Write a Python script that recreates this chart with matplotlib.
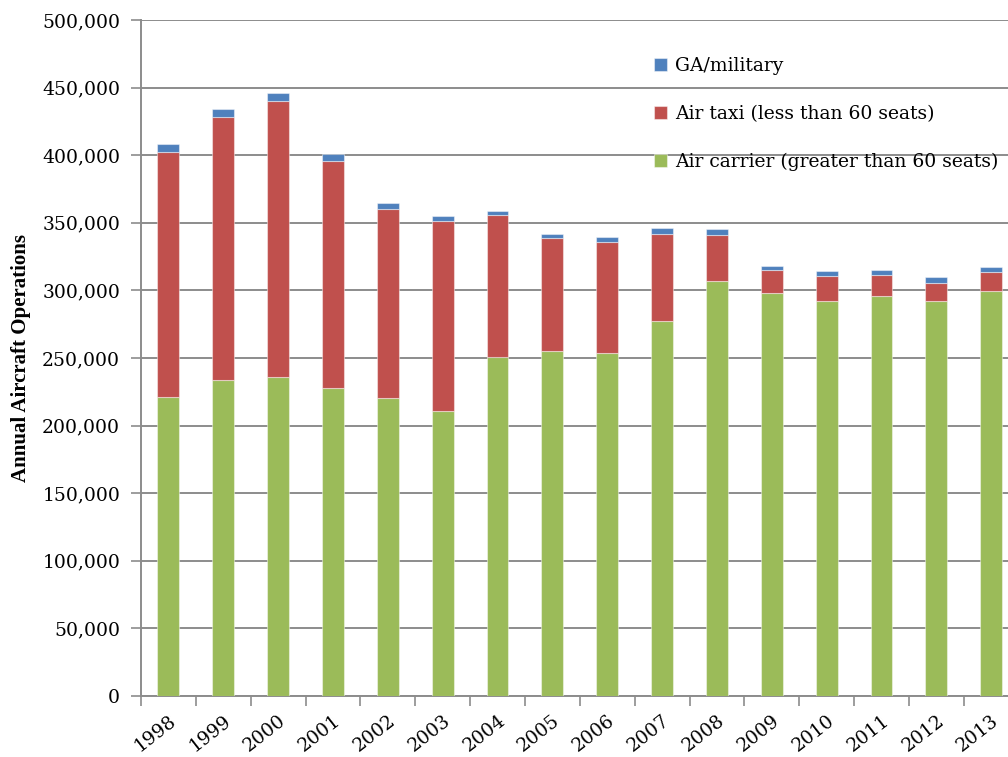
import matplotlib
matplotlib.use("Agg")
import matplotlib.pyplot as plt
import matplotlib.transforms as mtransforms
import numpy as np
from matplotlib.ticker import FuncFormatter, MultipleLocator

# ── Data ─────────────────────────────────────────────────────────
years = [1998, 1999, 2000, 2001, 2002, 2003, 2004, 2005,
         2006, 2007, 2008, 2009, 2010, 2011, 2012, 2013]
air_carrier = [221400, 233700, 236200, 227600, 220600, 210800, 250500, 254900,
               253700, 277100, 306700, 297800, 292100, 295800, 291900, 299300]
air_taxi = [181200, 194800, 204100, 168300, 139800, 140500, 105500, 84100,
            81900, 64800, 34200, 17000, 18800, 15300, 13800, 14500]
ga_military = [5400, 5400, 5700, 5000, 4500, 3700, 2900, 2700,
               3900, 4500, 4200, 3200, 3400, 4000, 4000, 3500]

# ── Style ────────────────────────────────────────────────────────
GREEN = "#9BBB59"
RED = "#C0504D"
BLUE = "#4F81BD"
GRID = "#8C8C8C"
SERIF = "DejaVu Serif"

fig = plt.figure(figsize=(10.08, 7.57), dpi=100)
ax = fig.add_axes([141 / 1008, 61 / 757, 877.6 / 1008, 676 / 757])

x = np.arange(len(years))
w = 0.4
edge = dict(edgecolor=(1, 1, 1, 0.45), linewidth=0.8)

ax.bar(x, air_carrier, w, color=GREEN, label="Air carrier (greater than 60 seats)", zorder=3, **edge)
bottom2 = np.array(air_carrier)
ax.bar(x, air_taxi, w, bottom=bottom2, color=RED, label="Air taxi (less than 60 seats)", zorder=3, **edge)
bottom3 = bottom2 + np.array(air_taxi)
ax.bar(x, ga_military, w, bottom=bottom3, color=BLUE, label="GA/military", zorder=3, **edge)

# axes
ax.set_xlim(-0.5, len(years) - 0.5)
ax.set_ylim(0, 500000)
ax.yaxis.set_major_locator(MultipleLocator(50000))
ax.yaxis.set_major_formatter(FuncFormatter(lambda v, p: f"{int(v):,}"))
ax.grid(axis="y", color=GRID, linewidth=1.4, zorder=0)

ax.set_xticks(x)
ax.set_xticklabels([str(y) for y in years], rotation=38, ha="right",
                   rotation_mode="anchor", fontsize=13.5, family=SERIF)
shift = mtransforms.ScaledTranslation(-4 / 100, 0, fig.dpi_scale_trans)
for lab in ax.get_xticklabels():
    lab.set_transform(lab.get_transform() + shift)
ax.set_xticks(np.arange(-0.5, len(years)), minor=True)
ax.tick_params(axis="x", which="major", length=0, pad=11)
ax.tick_params(axis="x", which="minor", length=7, color=GRID, width=1.2)
ax.tick_params(axis="y", length=7, color=GRID, width=1.2, labelsize=13.5, pad=8)
for lab in ax.get_yticklabels():
    lab.set_family(SERIF)

for s in ["top", "right"]:
    ax.spines[s].set_visible(False)
for s in ["left", "bottom"]:
    ax.spines[s].set_color(GRID)
    ax.spines[s].set_linewidth(1.4)

ax.set_ylabel("Annual Aircraft Operations", family="Liberation Serif",
              fontweight="bold", fontsize=15, labelpad=8)

# legend, top entry first
h, l = ax.get_legend_handles_labels()
leg = ax.legend(h[::-1], l[::-1], loc="upper left", bbox_to_anchor=(0.5655, 0.970),
                frameon=False, prop={"family": SERIF, "size": 13.5},
                labelspacing=1.6, handlelength=0.7, handleheight=0.7,
                handletextpad=0.4)

fig.savefig("out.png", dpi=100)
